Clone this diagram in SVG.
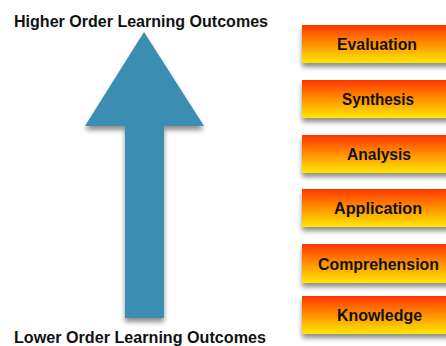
<svg xmlns="http://www.w3.org/2000/svg" width="446" height="346" viewBox="0 0 446 346">
<defs>
<linearGradient id="boxg" x1="0" y1="0" x2="0" y2="1">
<stop offset="0" stop-color="#FF3600"/>
<stop offset="0.55" stop-color="#FF9A00"/>
<stop offset="1" stop-color="#FFE800"/>
</linearGradient>
<filter id="sh" x="-20%" y="-20%" width="140%" height="160%">
<feGaussianBlur in="SourceAlpha" stdDeviation="2.5"/>
<feOffset dx="0" dy="4" result="b"/>
<feComponentTransfer><feFuncA type="linear" slope="0.45"/></feComponentTransfer>
<feMerge><feMergeNode/><feMergeNode in="SourceGraphic"/></feMerge>
</filter>
</defs>
<style>
.box{fill:url(#boxg);filter:url(#sh)}
.lbl{font-family:"Liberation Sans",Arial,sans-serif;font-weight:bold;font-size:16px;fill:#111;text-anchor:middle}
.ttl{font-family:"Liberation Sans",Arial,sans-serif;font-weight:bold;font-size:17px;fill:#111}
</style>
<rect width="446" height="346" fill="#fff"/>
<g id="arrow">
<path d="M144,32 L204,126 L164,126 L164,318 L125,318 L125,126 L85,126 Z" fill="#3A8EB2" filter="url(#sh)"/>
</g>
<g id="higher"><text class="ttl" x="14" y="27" textLength="254" lengthAdjust="spacingAndGlyphs">Higher Order Learning Outcomes</text></g>
<g id="lower"><text class="ttl" x="14" y="343" textLength="252" lengthAdjust="spacingAndGlyphs">Lower Order Learning Outcomes</text></g>
<g id="evaluation"><rect class="box" x="302" y="25" width="150" height="38"/><text class="lbl" x="377" y="50" textLength="80" lengthAdjust="spacingAndGlyphs">Evaluation</text></g>
<g id="synthesis"><rect class="box" x="302" y="80" width="150" height="38"/><text class="lbl" x="378" y="105" textLength="72" lengthAdjust="spacingAndGlyphs">Synthesis</text></g>
<g id="analysis"><rect class="box" x="302" y="135" width="150" height="38"/><text class="lbl" x="379" y="160" textLength="64" lengthAdjust="spacingAndGlyphs">Analysis</text></g>
<g id="application"><rect class="box" x="302" y="189" width="150" height="38"/><text class="lbl" x="378" y="214" textLength="88" lengthAdjust="spacingAndGlyphs">Application</text></g>
<g id="comprehension"><rect class="box" x="302" y="244" width="150" height="39"/><text class="lbl" x="378.5" y="270" textLength="121" lengthAdjust="spacingAndGlyphs">Comprehension</text></g>
<g id="knowledge"><rect class="box" x="302" y="296" width="150" height="38"/><text class="lbl" x="379.5" y="321" textLength="85" lengthAdjust="spacingAndGlyphs">Knowledge</text></g>
<g id="connectors"></g>
</svg>
